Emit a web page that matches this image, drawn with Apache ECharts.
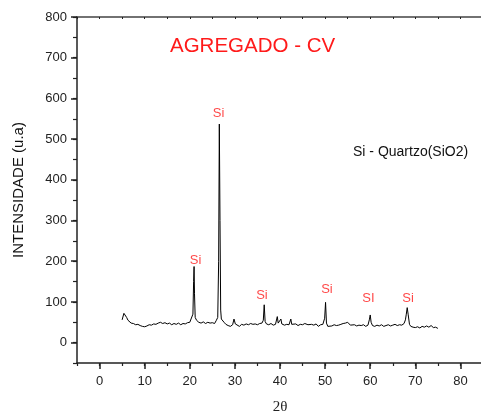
<!DOCTYPE html>
<html>
<head>
<meta charset="utf-8">
<script src="https://cdn.jsdelivr.net/npm/echarts@6/dist/echarts.min.js"></script>
<style>
  html, body { margin: 0; padding: 0; background: #fff; }
  #chart { width: 481px; height: 417px; }
</style>
</head>
<body>
<div id="chart"></div>
<script>
// difratograma - 2theta x intensidade
var twoTheta = [
  5.0, 5.2, 5.4, 5.6, 5.8, 6.0, 6.3, 6.6, 7.0, 7.5, 8.0, 8.5, 9.0, 9.5, 10.0, 10.5,
  11.0, 11.5, 12.0, 12.5, 13.0, 13.5, 14.0, 14.5, 15.0, 15.5, 16.0, 16.5, 17.0, 17.5,
  18.0, 18.5, 19.0, 19.5, 20.0, 20.4, 20.7, 20.85, 20.95, 21.05, 21.2, 21.5, 22.0, 22.5,
  23.0, 23.5, 24.0, 24.5, 25.0, 25.5, 25.9, 26.2, 26.4, 26.55, 26.7, 26.85, 27.0, 27.3,
  27.6, 28.0, 28.5, 29.0, 29.5, 29.8, 30.1, 30.5, 31.0, 31.5, 32.0, 32.5, 33.0, 33.5,
  34.0, 34.5, 35.0, 35.5, 36.0, 36.3, 36.5, 36.7, 37.0, 37.5, 38.0, 38.5, 39.0, 39.4,
  39.6, 40.0, 40.2, 40.4, 41.0, 41.5, 42.0, 42.4, 42.6, 43.0, 43.5, 44.0, 44.5, 45.0,
  45.5, 45.9, 46.2, 46.5, 47.0, 47.5, 48.0, 48.5, 49.0, 49.5, 49.9, 50.1, 50.3, 50.6,
  51.0, 51.5, 52.0, 52.5, 53.0, 53.5, 54.0, 54.5, 55.0, 55.3, 55.6, 56.0, 56.5, 57.0,
  57.5, 58.0, 58.5, 59.0, 59.5, 59.8, 60.0, 60.2, 60.5, 61.0, 61.5, 62.0, 62.5, 63.0,
  63.5, 64.0, 64.5, 65.0, 65.5, 66.0, 66.5, 67.0, 67.5, 67.8, 68.0, 68.2, 68.4, 68.7,
  69.0, 69.5, 70.0, 70.5, 71.0, 71.5, 72.0, 72.5, 73.0, 73.5, 74.0, 74.5, 75.0
];
var intensity = [
  56, 60, 72, 74, 70, 62, 55, 52, 48, 47, 44, 45, 42, 40, 39, 41,
  44, 43, 46, 45, 48, 50, 47, 49, 46, 48, 44, 47, 45, 48,
  44, 47, 46, 49, 50, 52, 70, 150, 187, 120, 62, 55, 50, 48,
  51, 47, 50, 48, 49, 47, 55, 62, 200, 537, 300, 80, 58, 62,
  50, 45, 42, 40, 44, 58, 46, 44, 40, 45, 43, 46, 44, 47,
  45, 46, 44, 47, 48, 55, 93, 52, 46, 44, 47, 43, 45, 64,
  48, 47, 58, 46, 43, 45, 44, 58, 45, 44, 46, 42, 45, 44,
  47, 51, 44, 42, 45, 43, 46, 40, 44, 45, 60, 99, 48, 40,
  42, 41, 44, 42, 43, 45, 47, 48, 50, 46, 43, 42, 44, 41,
  43, 42, 44, 40, 43, 56, 68, 50, 42, 40, 43, 41, 44, 40,
  42, 44, 41, 43, 45, 42, 44, 43, 47, 56, 70, 86, 70, 45,
  40, 38, 37, 39, 36, 40, 38, 41, 38, 42, 37, 38, 35
];

// rotulos dos picos
var peakX = [21.3, 26.4, 36.0, 50.4, 59.6, 68.4];
var peakY = [203, 562, 117, 131, 109, 109];
var peakText = ['Si', 'Si', 'Si', 'Si', 'SI', 'Si'];

var xTicks = [0, 10, 20, 30, 40, 50, 60, 70, 80];
var yTicks = [0, 100, 200, 300, 400, 500, 600, 700, 800];

var chart = echarts.init(document.getElementById('chart'));

var lineData = twoTheta.map(function (t, i) { return [t, intensity[i]]; });
var labelData = peakX.map(function (t, i) { return { value: [t, peakY[i]], name: peakText[i] }; });

var axisColor = '#222';
var labelFont = { fontSize: 13, color: '#222', fontFamily: 'Liberation Sans' };

chart.setOption({
  animation: false,
  title: {
    text: 'AGREGADO - CV',
    left: 165,
    top: 31,
    textStyle: { color: '#ff1a1a', fontSize: 20.5, fontWeight: 'normal', fontFamily: 'Liberation Sans' }
  },
  graphic: [{
    type: 'text',
    left: 353,
    top: 145,
    style: { text: 'Si - Quartzo(SiO2)', fill: '#111', fontSize: 14, fontFamily: 'Liberation Sans' }
  }],
  grid: { left: 77, right: -2, top: 17, bottom: 54, outerBoundsMode: 'none' },
  xAxis: [{
    // eixo principal (tick menor a cada 5)
    type: 'value',
    min: -5,
    max: 85,
    interval: 5,
    name: '2θ',
    nameLocation: 'middle',
    nameGap: 37,
    nameTextStyle: { fontFamily: 'Liberation Serif', fontSize: 15, color: '#222' },
    axisLine: { onZero: false, lineStyle: { color: axisColor, width: 1.5 } },
    axisTick: { length: 3, lineStyle: { color: axisColor, width: 1.2 } },
    axisLabel: Object.assign({ margin: 12, customValues: xTicks }, labelFont),
    splitLine: { show: false }
  }, {
    // ticks maiores
    type: 'value',
    position: 'bottom',
    min: -5,
    max: 85,
    interval: 5,
    axisLine: { show: false, onZero: false },
    axisTick: { length: 6, customValues: xTicks, lineStyle: { color: axisColor, width: 1.5 } },
    axisLabel: { show: false },
    splitLine: { show: false }
  }, {
    type: 'value',
    position: 'top',
    min: -5,
    max: 85,
    interval: 5,
    axisLine: { onZero: false, lineStyle: { color: '#444', width: 1.5 } },
    axisTick: { inside: true, length: 2, lineStyle: { color: axisColor } },
    axisLabel: { show: false },
    splitLine: { show: false }
  }],
  yAxis: [{
    type: 'value',
    min: -50,
    max: 800,
    interval: 50,
    name: 'INTENSIDADE (u.a)',
    nameLocation: 'middle',
    nameGap: 51,
    nameTextStyle: { fontFamily: 'Liberation Sans', fontSize: 15, color: '#111' },
    axisLine: { onZero: false, lineStyle: { color: axisColor, width: 1.5 } },
    axisTick: { length: 4, lineStyle: { color: axisColor, width: 1.2 } },
    axisLabel: Object.assign({ margin: 10, customValues: yTicks }, labelFont),
    splitLine: { show: false }
  }, {
    type: 'value',
    position: 'left',
    min: -50,
    max: 800,
    interval: 50,
    axisLine: { show: false, onZero: false },
    axisTick: { length: 6, customValues: yTicks, lineStyle: { color: axisColor, width: 1.5 } },
    axisLabel: { show: false },
    splitLine: { show: false }
  }],
  series: [{
    name: 'XRD',
    type: 'line',
    data: lineData,
    showSymbol: false,
    symbol: 'none',
    lineStyle: { color: '#000', width: 1 }
  }, {
    name: 'picos',
    type: 'scatter',
    data: labelData,
    symbolSize: 0,
    label: {
      show: true,
      position: 'inside',
      formatter: '{b}',
      color: '#ff1a1a',
      fontSize: 13,
      fontFamily: 'Liberation Sans'
    }
  }]
});
</script>
</body>
</html>
